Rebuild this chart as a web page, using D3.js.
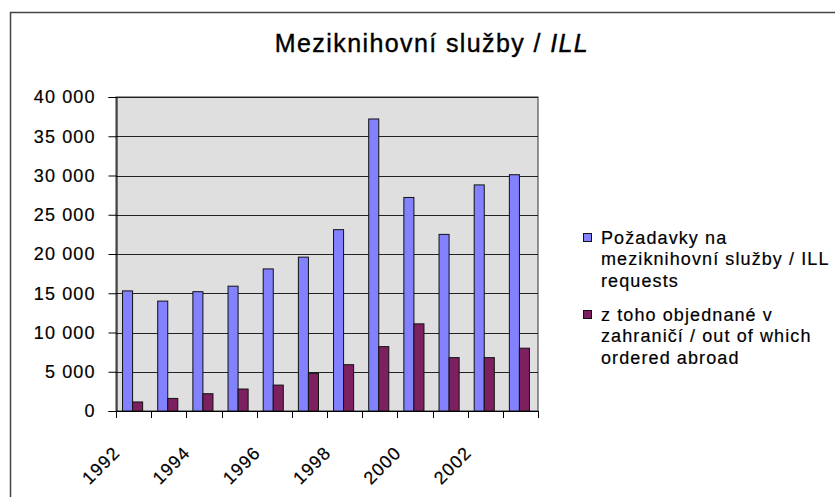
<!DOCTYPE html>
<html>
<head>
<meta charset="utf-8">
<script src="https://cdn.jsdelivr.net/npm/d3@7/dist/d3.min.js"></script>
<style>
  body { margin: 0; background: #fff; }
  text { font-family: "Liberation Sans", Arial, sans-serif; }
</style>
</head>
<body>
<div class="usable"></div>
<script>
// data
let years = ["1992", "1993", "1994", "1995", "1996", "1997", "1998", "1999", "2000", "2001", "2002", "2003"];
let requests = [15300, 14000, 15200, 15900, 18100, 19600, 23100, 37200, 27200, 22500, 28800, 30100];
let abroad = [1150, 1600, 2200, 2800, 3300, 4800, 5900, 8200, 11100, 6800, 6800, 8000];
let yTicks = [0, 5000, 10000, 15000, 20000, 25000, 30000, 35000, 40000];
let xLabels = ["1992", "1994", "1996", "1998", "2000", "2002"];
let legendLines = [
    ["Požadavky na", "meziknihovní služby / ILL", "requests"],
    ["z toho objednané v", "zahraničí / out of which", "ordered abroad"]
];
let colors = ["#8282ff", "#7c2060"];

let svg = d3.select(".usable").append("svg")
    .attr("width", 835)
    .attr("height", 497);

// outer frame (runs off the right and bottom edge)
svg.append("rect")
    .attr("x", 10.5).attr("y", 12.5)
    .attr("width", 900).attr("height", 600)
    .style("fill", "#fff")
    .style("stroke", "#444")
    .style("stroke-width", 1.5);

// title
let title = svg.append("text")
    .attr("x", 432).attr("y", 52)
    .attr("text-anchor", "middle")
    .style("font-size", "25px")
    .style("letter-spacing", "1.4px")
    .style("stroke", "#000").style("stroke-width", 0.4)
    .attr("fill", "#000");
title.append("tspan").text("Meziknihovní služby / ");
title.append("tspan").style("font-style", "italic").text("ILL");

let x = d3.scaleBand().domain(years).range([116, 538]);
let y = d3.scaleLinear().domain([0, 40000]).range([411, 97]);

let bw = x.bandwidth();
let barW = bw / 3.5;
let off = bw * 0.75 / 3.5;

// plot area
svg.append("rect")
    .attr("x", x.range()[0]).attr("y", y(40000))
    .attr("width", x.range()[1] - x.range()[0])
    .attr("height", y(0) - y(40000))
    .style("fill", "#dfdfdf")
    .style("stroke", "#333")
    .style("stroke-width", 1);

// gridlines
svg.append("g").selectAll("line")
    .data(yTicks)
    .join("line")
    .attr("x1", x.range()[0]).attr("x2", x.range()[1])
    .attr("y1", d => Math.round(y(d)) + 0.5)
    .attr("y2", d => Math.round(y(d)) + 0.5)
    .style("stroke", "#222")
    .style("stroke-width", 1);

// bars
let series = [requests, abroad];
series.forEach((vals, s) => {
    svg.append("g").selectAll("rect")
        .data(vals)
        .join("rect")
        .attr("x", (d, i) => x(years[i]) + off + s * barW - 1)
        .attr("y", d => y(d))
        .attr("width", barW)
        .attr("height", d => y(0) - y(d))
        .style("fill", colors[s])
        .style("stroke", "#111")
        .style("stroke-width", 1);
});

// y axis
let fmt = d3.formatLocale({ thousands: " ", grouping: [3], decimal: ",", currency: ["", ""] }).format(",");
let yAxis = svg.append("g")
    .attr("transform", "translate(" + (x.range()[0] + 0.5) + ",0)")
    .call(d3.axisLeft(y).tickValues(yTicks).tickSize(8).tickPadding(13).tickFormat(fmt));
yAxis.select(".domain").style("stroke", "#000");
yAxis.selectAll(".tick line").style("stroke", "#000");
yAxis.selectAll("text")
    .style("font-size", "18px")
    .style("letter-spacing", "1.1px")
    .style("font-family", "'Liberation Sans', Arial, sans-serif")
    .style("stroke", "#000").style("stroke-width", 0.2)
    .attr("fill", "#000");

// x axis line and ticks at category edges
let edges = years.map(d => x(d)).concat([x.range()[1]]);
svg.append("line")
    .attr("x1", x.range()[0]).attr("x2", x.range()[1])
    .attr("y1", y(0) + 0.5).attr("y2", y(0) + 0.5)
    .style("stroke", "#000");
svg.append("g").selectAll("line")
    .data(edges)
    .join("line")
    .attr("x1", d => Math.round(d) + 0.5).attr("x2", d => Math.round(d) + 0.5)
    .attr("y1", y(0)).attr("y2", y(0) + 7)
    .style("stroke", "#000");

// x labels (every other year)
svg.append("g").selectAll("text")
    .data(xLabels)
    .join("text")
    .attr("transform", d => "translate(" + (x(d) + 5) + ",454) rotate(-45)")
    .attr("text-anchor", "end")
    .style("font-size", "18px")
    .style("letter-spacing", "1.1px")
    .style("stroke", "#000").style("stroke-width", 0.2)
    .attr("fill", "#000")
    .text(d => d);

// legend
let legend = svg.append("g");
let entryY = [244, 321];
legendLines.forEach((lines, s) => {
    legend.append("rect")
        .attr("x", 583.5).attr("y", entryY[s] - 10.5)
        .attr("width", 8).attr("height", 8)
        .style("fill", colors[s])
        .style("stroke", "#111");
    legend.append("g").selectAll("text")
        .data(lines)
        .join("text")
        .attr("x", 601)
        .attr("y", (d, i) => entryY[s] + i * 21.3)
        .style("font-size", "18px")
        .style("letter-spacing", "1.1px")
        .style("stroke", "#000").style("stroke-width", 0.2)
        .attr("fill", "#000")
        .text(d => d);
});
</script>
</body>
</html>
